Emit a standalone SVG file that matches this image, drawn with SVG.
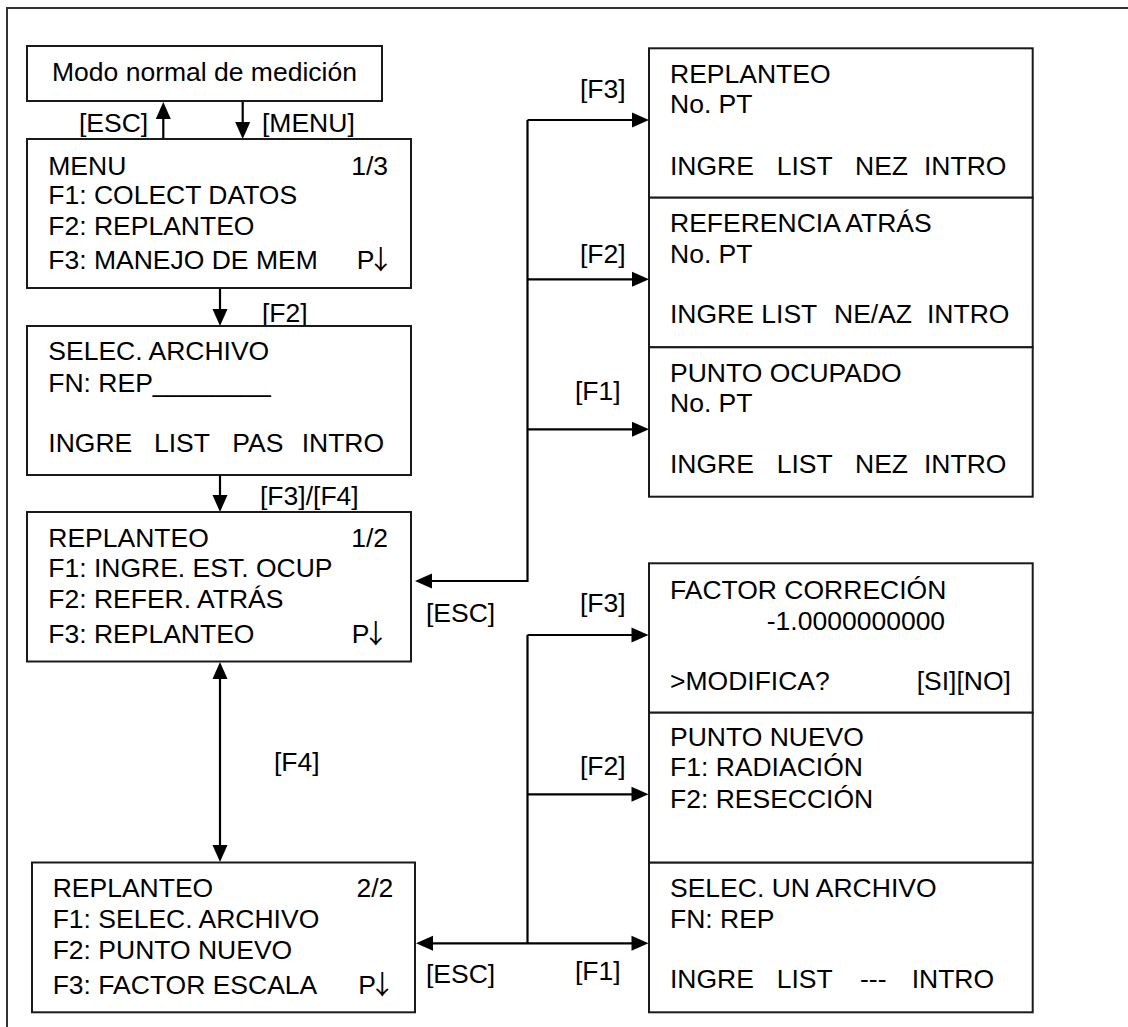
<svg xmlns="http://www.w3.org/2000/svg" width="1128" height="1027" viewBox="0 0 1128 1027">
<style>
text{font-family:"Liberation Sans",Arial,sans-serif;font-size:26.5px;fill:#000}
.arr{font-family:"Noto Sans CJK JP","Liberation Sans",sans-serif;font-size:26.5px}
.box{fill:#fff;stroke:#1a1a1a;stroke-width:2}
.frame{fill:none;stroke:#333;stroke-width:2}
.con{fill:none;stroke:#000;stroke-width:2.2}
.end{text-anchor:end}
</style>
<defs>
<marker id="ah" markerUnits="userSpaceOnUse" viewBox="-10 -8 19 16" markerWidth="19" markerHeight="16" refX="0" refY="0" orient="auto-start-reverse">
<path d="M8,0 L-9,-7.5 L-9,7.5 Z" fill="#000"/>
</marker>
</defs>
<rect class="frame" x="7" y="8" width="1140" height="1040"/>

<g id="connectors">
<line class="con" x1="163.3" y1="139" x2="163.3" y2="110" marker-end="url(#ah)"/>
<line class="con" x1="242.7" y1="101" x2="242.7" y2="131" marker-end="url(#ah)"/>
<line class="con" x1="220" y1="288" x2="220" y2="318" marker-end="url(#ah)"/>
<line class="con" x1="220" y1="475" x2="220" y2="504" marker-end="url(#ah)"/>
<line class="con" x1="220" y1="670" x2="220" y2="854" marker-start="url(#ah)" marker-end="url(#ah)"/>
<polyline class="con" points="527.5,120 527.5,581 423,581" marker-end="url(#ah)"/>
<line class="con" x1="527.5" y1="120" x2="641" y2="120" marker-end="url(#ah)"/>
<line class="con" x1="527.5" y1="279.3" x2="641" y2="279.3" marker-end="url(#ah)"/>
<line class="con" x1="527.5" y1="429.3" x2="641" y2="429.3" marker-end="url(#ah)"/>
<line class="con" x1="527.5" y1="635" x2="527.5" y2="943.3"/>
<line class="con" x1="527.5" y1="635" x2="640.5" y2="635" marker-end="url(#ah)"/>
<line class="con" x1="527.5" y1="794.3" x2="640.5" y2="794.3" marker-end="url(#ah)"/>
<line class="con" x1="424" y1="943.3" x2="640.5" y2="943.3" marker-start="url(#ah)" marker-end="url(#ah)"/>
<text x="79" y="131.7">[ESC]</text>
<text x="262" y="131.7">[MENU]</text>
<text x="262" y="321.7">[F2]</text>
<text x="260" y="505">[F3]/[F4]</text>
<text x="274" y="770.7">[F4]</text>
<text x="580" y="98.3">[F3]</text>
<text x="580" y="262.7">[F2]</text>
<text x="575" y="400">[F1]</text>
<text x="426" y="621.7">[ESC]</text>
<text x="580" y="611.7">[F3]</text>
<text x="580" y="775">[F2]</text>
<text x="426" y="982.7">[ESC]</text>
<text x="575" y="980">[F1]</text>
</g>

<g id="modo-normal">
<rect class="box" x="27" y="46" width="355" height="55"/>
<text x="52" y="80.7">Modo normal de medición</text>
</g>

<g id="menu">
<rect class="box" x="27" y="139" width="384" height="149"/>
<text x="48.3" y="175">MENU</text>
<text x="388" y="175" class="end">1/3</text>
<text x="48.3" y="204">F1: COLECT DATOS</text>
<text x="48.3" y="235">F2: REPLANTEO</text>
<text x="48.3" y="269">F3: MANEJO DE MEM</text>
<text x="356.7" y="269">P<tspan class="arr" dx="-7">↓</tspan></text>
</g>

<g id="selec-archivo">
<rect class="box" x="27" y="326" width="384" height="149"/>
<text x="48.3" y="360">SELEC. ARCHIVO</text>
<text x="48.3" y="391.7">FN: REP________</text>
<text y="451.7"><tspan x="48.3">INGRE</tspan><tspan x="154">LIST</tspan><tspan x="232.3">PAS</tspan><tspan x="301.7">INTRO</tspan></text>
</g>

<g id="replanteo-1">
<rect class="box" x="27" y="512" width="384" height="149.5"/>
<text x="48.3" y="546.7">REPLANTEO</text>
<text x="388" y="546.7" class="end">1/2</text>
<text x="48.3" y="577">F1: INGRE. EST. OCUP</text>
<text x="48.3" y="608">F2: REFER. ATRÁS</text>
<text x="48.3" y="643">F3: REPLANTEO</text>
<text x="351.7" y="643">P<tspan class="arr" dx="-7">↓</tspan></text>
</g>

<g id="replanteo-2">
<rect class="box" x="32" y="862.5" width="383" height="149.8"/>
<text x="52.7" y="897.3">REPLANTEO</text>
<text x="393.3" y="897.3" class="end">2/2</text>
<text x="52.7" y="928.3">F1: SELEC. ARCHIVO</text>
<text x="52.7" y="959.3">F2: PUNTO NUEVO</text>
<text x="52.7" y="994.3">F3: FACTOR ESCALA</text>
<text x="358.3" y="994.3">P<tspan class="arr" dx="-7">↓</tspan></text>
</g>

<g id="replanteo-pt">
<rect class="box" x="649" y="48.3" width="383.7" height="149.4"/>
<text x="670" y="83.3">REPLANTEO</text>
<text x="670" y="113.3">No. PT</text>
<text y="175"><tspan x="670">INGRE</tspan><tspan x="776.7">LIST</tspan><tspan x="855">NEZ</tspan><tspan x="924">INTRO</tspan></text>
</g>

<g id="referencia-atras">
<rect class="box" x="649" y="197.7" width="383.7" height="149.6"/>
<text x="670" y="231.7">REFERENCIA ATRÁS</text>
<text x="670" y="263.3">No. PT</text>
<text y="323.3"><tspan x="670">INGRE LIST</tspan><tspan x="834">NE/AZ</tspan><tspan x="927">INTRO</tspan></text>
</g>

<g id="punto-ocupado">
<rect class="box" x="649" y="347.3" width="383.7" height="149.4"/>
<text x="670" y="381.7">PUNTO OCUPADO</text>
<text x="670" y="411.7">No. PT</text>
<text y="473.3"><tspan x="670">INGRE</tspan><tspan x="776.7">LIST</tspan><tspan x="855">NEZ</tspan><tspan x="924">INTRO</tspan></text>
</g>

<g id="factor-correccion">
<rect class="box" x="649" y="563.3" width="383.7" height="149.4"/>
<text x="670" y="599.3">FACTOR CORRECIÓN</text>
<text x="766.8" y="630">-1.0000000000</text>
<text y="690"><tspan x="670">&gt;MODIFICA?</tspan><tspan x="916.7">[SI][NO]</tspan></text>
</g>

<g id="punto-nuevo">
<rect class="box" x="649" y="712.7" width="383.7" height="150"/>
<text x="670" y="746">PUNTO NUEVO</text>
<text x="670" y="776">F1: RADIACIÓN</text>
<text x="670" y="808">F2: RESECCIÓN</text>
</g>

<g id="selec-un-archivo">
<rect class="box" x="649" y="862.7" width="383.7" height="149.6"/>
<text x="670" y="897.3">SELEC. UN ARCHIVO</text>
<text x="670" y="928.3">FN: REP</text>
<text y="988.3"><tspan x="670">INGRE</tspan><tspan x="776.7">LIST</tspan><tspan x="860">---</tspan><tspan x="911.7">INTRO</tspan></text>
</g>
</svg>
